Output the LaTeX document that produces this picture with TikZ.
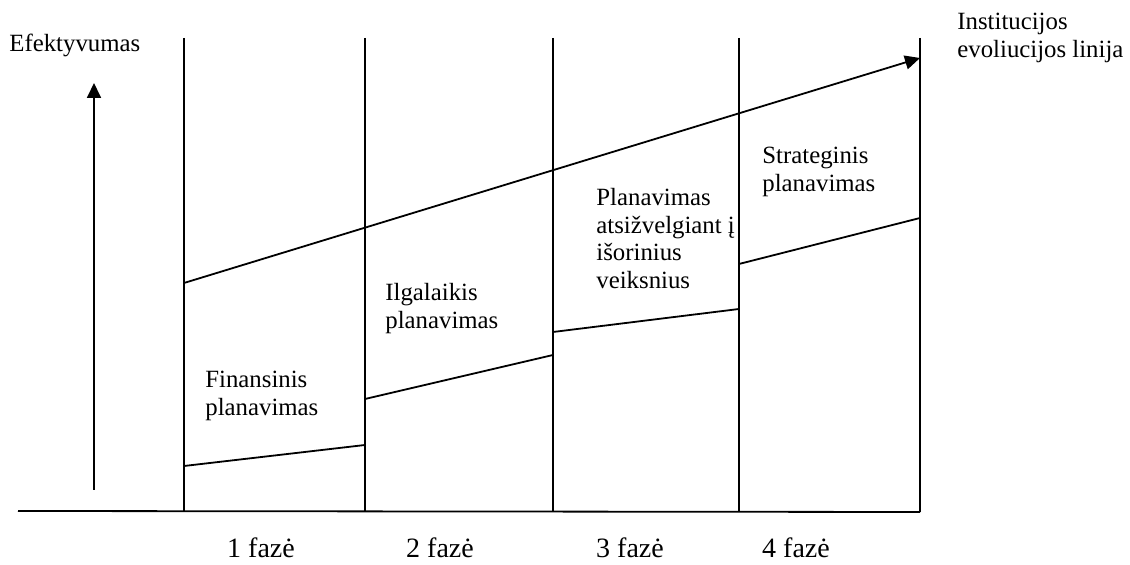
\documentclass[tikz,border=0pt]{standalone}
\usepackage{fontspec}
\setmainfont{Liberation Serif}
\usetikzlibrary{arrows.meta}
\begin{document}
\begin{tikzpicture}[x=0.5pt,y=-0.5pt,
  ln/.style={line width=0.9pt},
  arr/.style={ln,-{Triangle[length=7.5pt,width=7pt]}},
  lbl/.style={inner sep=0pt,align=left,anchor=north west,font=\fontsize{12.4pt}{13.8pt}\selectfont},
  phase/.style={inner sep=0pt,anchor=base,font=\fontsize{14pt}{16pt}\selectfont}]
\useasboundingbox (0,0) rectangle (1130,565);
% coordinates
\coordinate (L) at (18,511);
\foreach \i/\x in {0/184,1/365,2/553,3/739,4/920}{
  \coordinate (t\i) at (\x,38);
  \coordinate (b\i) at (\x,512);
}
\coordinate (ev0) at (184,283);
\coordinate (ev1) at (920,58);
\coordinate (s1a) at (184,466); \coordinate (s1b) at (365,445);
\coordinate (s2a) at (365,399); \coordinate (s2b) at (553,355);
\coordinate (s3a) at (553,332); \coordinate (s3b) at (739,309);
\coordinate (s4a) at (739,264); \coordinate (s4b) at (920,218);
\coordinate (ya) at (94,490); \coordinate (yb) at (94,83);
% lines
\draw[ln] (L) -- (b4);
\foreach \i in {0,...,4}{ \draw[ln] (t\i) -- (b\i); }
\draw[arr] (ev0) -- (ev1);
\draw[arr] (ya) -- (yb);
\draw[ln] (s1a) -- (s1b);
\draw[ln] (s2a) -- (s2b);
\draw[ln] (s3a) -- (s3b);
\draw[ln] (s4a) -- (s4b);
% labels
\node[lbl] (ef) at (9,34) {Efektyvumas};
\node[lbl] (inst) at (957,13) {Institucijos\\evoliucijos linija};
\node[lbl] (fin) at (205,371) {Finansinis\\planavimas};
\node[lbl] (ilg) at (385,283) {Ilgalaikis\\planavimas};
\node[lbl] (pla) at (596,188) {Planavimas\\atsižvelgiant į\\išorinius\\veiksnius};
\node[lbl] (str) at (762,147) {Strateginis\\planavimas};
\node[phase] (f1) at (261,558) {1 fazė};
\node[phase] (f2) at (440,558) {2 fazė};
\node[phase] (f3) at (630,558) {3 fazė};
\node[phase] (f4) at (796,558) {4 fazė};
\end{tikzpicture}
\end{document}
